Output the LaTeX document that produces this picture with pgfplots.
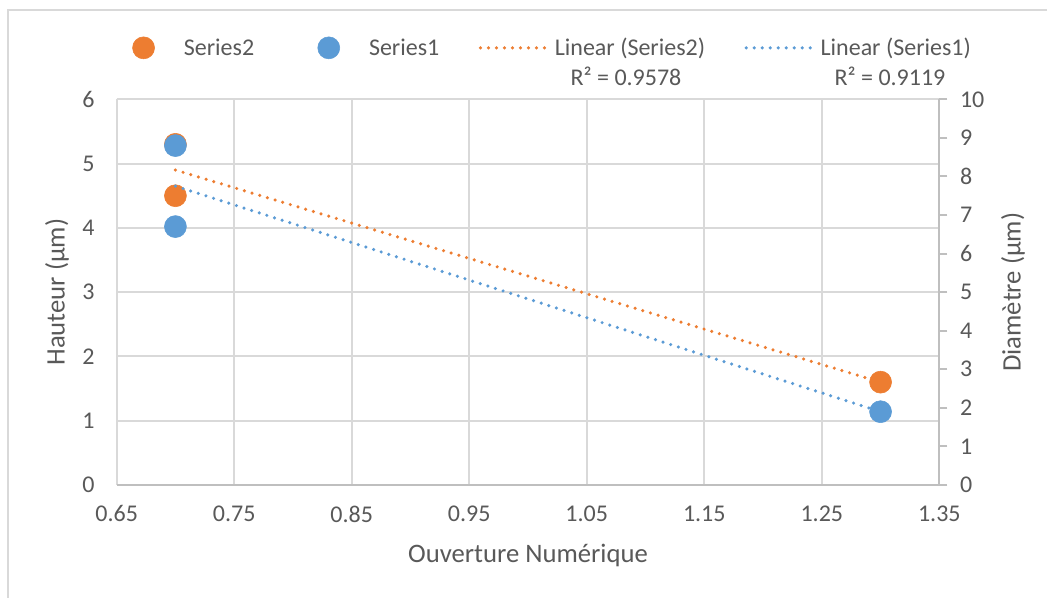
\documentclass[border=0pt]{standalone}
\usepackage{fontspec}
\setmainfont{Carlito}
\usepackage{pgfplots}
\pgfplotsset{compat=1.18}
\definecolor{orng}{HTML}{ED7D31}
\definecolor{blu}{HTML}{5B9BD5}
\definecolor{gridc}{HTML}{D9D9D9}
\definecolor{axc}{HTML}{BFBFBF}
\definecolor{txt}{HTML}{595959}
\pgfplotsset{
  markleg/.style={legend image code/.code={\path (-26.25pt,0pt) (30pt,0pt); \draw[##1] plot coordinates {(0pt,0pt)};}},
  lineleg/.style={legend image code/.code={\draw[##1] (0pt,0pt) -- (52.5pt,0pt); \path (54.5pt,0pt);}},
  common/.style={
    scale only axis, width=617pt, height=289.25pt,
    at={(87.5pt,84.75pt)}, anchor=south west,
    xmin=0.65, xmax=1.35,
    /pgf/number format/assume math mode=true,
    tick label style={font=\fontsize{18}{21.6}\selectfont, text=txt},
  },
  trend/.style={line width=2.6pt, line cap=round, dash pattern=on 0pt off 6pt},
}
\begin{document}
\begin{tikzpicture}
\fill[white] (0,0) rectangle (785.25pt,448.5pt);
\useasboundingbox (0,0) rectangle (785.25pt,448.5pt);
\draw[gridc, line width=1.5pt] (6pt,0pt) -- (6pt,441pt) -- (785.25pt,441pt);
\begin{axis}[common,
  ymin=0, ymax=6, ytick={0,1,2,3,4,5,6},
  xtick={0.65,0.75,0.85,0.95,1.05,1.15,1.25,1.35},
  xticklabel style={yshift=-12pt, /pgf/number format/.cd, fixed, fixed zerofill, precision=2},
  yticklabel style={xshift=-13pt},
  axis x line*=bottom, axis y line*=left,
  x axis line style={axc, line width=1.5pt},
  y axis line style={draw=none},
  tick style={draw=none},
  grid=major, major grid style={gridc, line width=1.5pt},
  xlabel={Ouverture Numérique},
  every axis x label/.style={at={(axis description cs:0.5,-0.182)}, anchor=center, font=\fontsize{20}{24}\selectfont, text=txt},
  ylabel={Hauteur (µm)},
  every axis y label/.style={at={(axis description cs:-0.0725,0.5)}, anchor=center, rotate=90, font=\fontsize{20}{24}\selectfont, text=txt},
  legend columns=4,
  legend cell align=left,
  legend style={draw=none, fill=none, inner sep=0pt,
    at={(axis description cs:-0.0105,1.1335)}, anchor=west,
    font=\fontsize{18}{21.6}\selectfont, text=txt,
    nodes={inner sep=0pt},
    /tikz/every even column/.append style={column sep=29.5pt}},
]
\addplot[only marks, mark=*, mark size=8.25pt, color=orng, mark options={draw=orng, fill=orng}, markleg]
  coordinates {(0.7,5.3) (0.7,4.5) (1.3,1.6)};
\addlegendentry{Series2}
\addlegendimage{only marks, mark=*, mark size=8.25pt, color=blu, mark options={draw=blu, fill=blu}, markleg}
\addlegendentry{Series1}
\addplot[orng, trend, lineleg]
  coordinates {(0.7,4.9) (1.3,1.6)};
\addlegendentry{Linear (Series2)}
\addlegendimage{blu, trend, lineleg}
\addlegendentry{Linear (Series1)}
\end{axis}
\begin{axis}[common,
  ymin=0, ymax=10, ytick={0,1,2,3,4,5,6,7,8,9,10},
  axis x line=none, axis y line*=right,
  axis line style={axc, line width=1.5pt},
  ytick style={axc, line width=1.5pt},
  tick align=outside, major tick length=6pt,
  yticklabel style={xshift=6pt},
  ylabel={Diamètre (µm)},
  every axis y label/.style={at={(axis description cs:1.0896,0.5)}, anchor=center, rotate=90, font=\fontsize{20}{24}\selectfont, text=txt},
]
\addplot[only marks, mark=*, mark size=8.25pt, color=blu, mark options={draw=blu, fill=blu}]
  coordinates {(0.7,8.8) (0.7,6.7) (1.3,1.9)};
\addplot[blu, trend] coordinates {(0.7,7.75) (1.3,1.9)};
\end{axis}
\node[font=\fontsize{18}{21.6}\selectfont, text=txt] at (469.5pt,391.5pt) {R² = 0.9578};
\node[font=\fontsize{18}{21.6}\selectfont, text=txt] at (667.5pt,391.5pt) {R² = 0.9119};
\end{tikzpicture}
\end{document}
